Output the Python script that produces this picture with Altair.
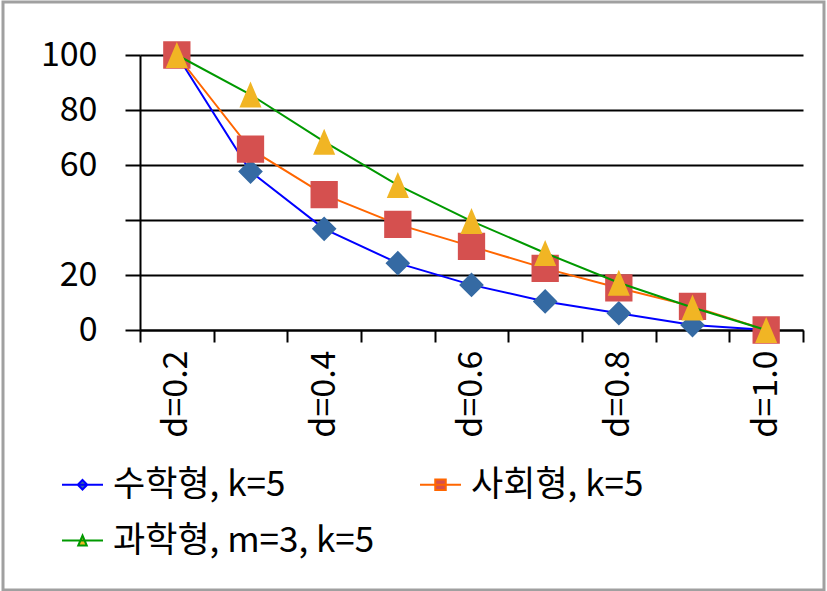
import altair as alt
import pandas as pd

categories = ["d=0.2", "d=0.3", "d=0.4", "d=0.5", "d=0.6", "d=0.7", "d=0.8", "d=0.9", "d=1.0"]
series_names = ["수학형, k=5", "사회형, k=5", "과학형, m=3, k=5"]
math_values = [100, 57.6, 36.8, 24.3, 16.4, 10.4, 6.1, 1.8, 0]
social_values = [100, 65.8, 49.2, 38.4, 30.4, 22.4, 15.3, 8.6, 0]
science_values = [100, 85.6, 68.5, 52.7, 39.6, 28.0, 17.2, 8.2, 0]
y_ticks = [0, 20, 40, 60, 80, 100]
x_label_shown = ["d=0.2", "d=0.4", "d=0.6", "d=0.8", "d=1.0"]

line_colors = ["#0000FF", "#FF6600", "#009900"]
marker_colors = ["#356AA3", "#D5504F", "#F1B524"]
# marker outline + a horizontal segment (only visible in the legend, where symbols get a stroke)
marker_paths = [
    "M-4.1,0H4.1M0,-0.95L0.95,0L0,0.95L-0.95,0Z",
    "M-4.1,0H4.1M-1.05,-1.05H1.05V1.05H-1.05Z",
    "M-4.1,0H4.1M0,-1L0.85,1H-0.85Z",
]

rows = []
for name, vals in zip(series_names, [math_values, social_values, science_values]):
    for c, v in zip(categories, vals):
        rows.append({"d": c, "value": v, "series": name})
df = pd.DataFrame(rows)

FONT = "Noto Sans CJK KR"

x_enc = alt.X(
    "d:N",
    sort=categories,
    scale=alt.Scale(type="band", domain=categories, paddingInner=0, paddingOuter=0),
    axis=alt.Axis(
        title=None, tickBand="extent", labelAngle=270, labelAlign="right",
        labelBaseline="middle",
        labelExpr="indexof(" + str(x_label_shown) + ", datum.value) >= 0 ? datum.value : ''",
        tickSize=12, labelPadding=8, labelFontSize=34, labelFont=FONT,
        labelColor="#000000", domainColor="#000000", domainWidth=2,
        tickColor="#000000", tickWidth=2, grid=False,
    ),
)
y_enc = alt.Y(
    "value:Q",
    scale=alt.Scale(domain=[0, 100], nice=False),
    axis=alt.Axis(
        title=None, values=y_ticks,
        labelExpr="datum.value == 40 ? '' : datum.label",
        tickSize=15, labelPadding=28, labelFontSize=34, labelFont=FONT,
        labelColor="#000000", domainColor="#000000", domainWidth=2,
        tickColor="#000000", tickWidth=2, grid=True, gridColor="#000000",
        gridWidth=2,
    ),
)

legend = alt.Legend(
    title=None, orient="none", direction="horizontal", legendX=-75, legendY=412,
    columns=2, columnPadding=41, rowPadding=20, padding=0,
    labelFont=FONT, labelFontSize=35, labelColor="#000000", labelOffset=13,
    labelLimit=600, symbolSize=100, symbolStrokeWidth=2, symbolOpacity=1,
)

base = alt.Chart(df)
layers = []
for i, name in enumerate(series_names):
    sub = base.transform_filter(alt.datum.series == name)
    layers.append(
        sub.mark_line(strokeWidth=2).encode(
            x=x_enc, y=y_enc,
            color=alt.Color("series:N", scale=alt.Scale(domain=series_names, range=line_colors), legend=legend),
        )
    )
    layers.append(
        sub.mark_point(filled=True, size=676, opacity=1, strokeWidth=0).encode(
            x=x_enc, y=y_enc,
            fill=alt.Fill("series:N", scale=alt.Scale(domain=series_names, range=marker_colors), legend=legend),
            shape=alt.Shape("series:N", scale=alt.Scale(domain=series_names, range=marker_paths), legend=legend),
        )
    )

frame = alt.Chart(alt.Data(values=[{"f": 1}])).mark_rect(
    filled=False, stroke="#A0A0A0", strokeWidth=3
).encode(x=alt.value(-137), x2=alt.value(684), y=alt.value(-53), y2=alt.value(535))

chart = alt.layer(frame, *layers).properties(
    width=663, height=275, autosize=alt.AutoSizeParams(type="none"),
    padding={"left": 140, "top": 55, "right": 24, "bottom": 261},
    background="#FFFFFF",
).configure_view(stroke="transparent")

chart.save("out.html", embed_options={"renderer": "svg", "actions": False})
